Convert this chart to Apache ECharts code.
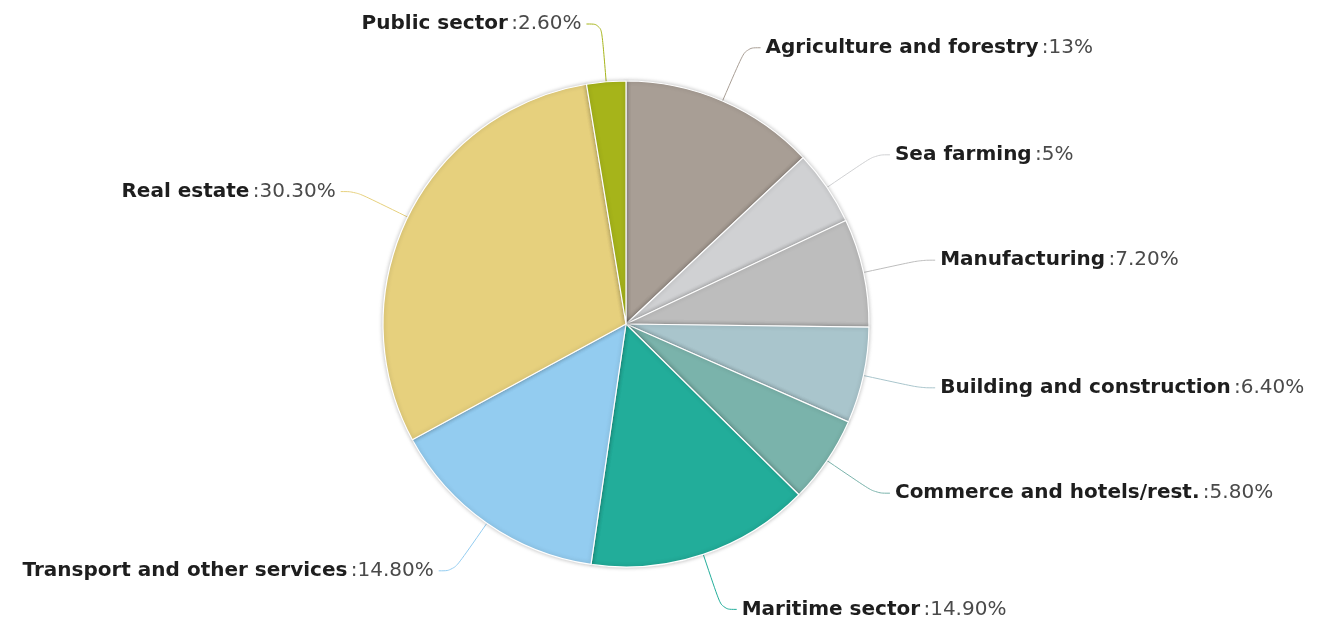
<!DOCTYPE html>
<html>
<head>
<meta charset="utf-8">
<title>Sector shares</title>
<script src="https://cdn.jsdelivr.net/npm/echarts@6/dist/echarts.min.js"></script>
<style>
  html, body { margin: 0; padding: 0; background: #ffffff; }
  #chart { width: 1326px; height: 621px; }
</style>
</head>
<body>
<div id="chart"></div>
<script>
// Sectors, in clockwise order from 12 o'clock
const sectors = [
  'Agriculture and forestry',
  'Sea farming',
  'Manufacturing',
  'Building and construction',
  'Commerce and hotels/rest.',
  'Maritime sector',
  'Transport and other services',
  'Real estate',
  'Public sector'
];
// Share of each sector, percent
const shares = [13, 5, 7.2, 6.4, 5.8, 14.9, 14.8, 30.3, 2.6];
const sliceColors = [
  '#a89e95', '#d0d1d3', '#bdbdbd', '#a9c5cc', '#7ab3ab',
  '#22ad9a', '#93ccf0', '#e6d07d', '#a6b41a'
];

function fmtShare(v) {
  return Number.isInteger(v) ? String(v) : v.toFixed(2);
}

const chart = echarts.init(document.getElementById('chart'));
chart.setOption({
  animation: false,
  series: [{
    type: 'pie',
    center: [626, 324],
    radius: 243,
    startAngle: 90,
    clockwise: true,
    avoidLabelOverlap: false,
    data: sectors.map((name, i) => ({
      name: name,
      value: shares[i],
      itemStyle: { color: sliceColors[i] }
    })),
    itemStyle: {
      borderColor: '#ffffff',
      borderWidth: 1.2,
      shadowBlur: 4,
      shadowColor: 'rgba(0,0,0,0.25)'
    },
    label: {
      show: true,
      position: 'outside',
      alignTo: 'none',
      formatter: p => '{n|' + p.name + '} {v|:' + fmtShare(p.value) + '%}',
      rich: {
        n: { fontFamily: 'DejaVu Sans', fontWeight: 'bold', fontSize: 20, color: '#1e1e1e' },
        v: { fontFamily: 'DejaVu Sans', fontSize: 20, color: '#4a4a4a' }
      }
    },
    labelLine: {
      show: true,
      length: 58,
      length2: 15,
      smooth: 0.4,
      lineStyle: { width: 1 }
    }
  }]
});
</script>
</body>
</html>
